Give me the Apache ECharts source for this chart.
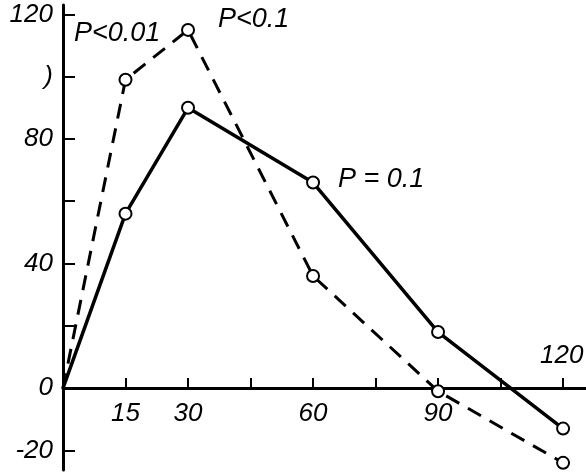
<!DOCTYPE html>
<html>
<head>
<meta charset="utf-8">
<script src="https://cdn.jsdelivr.net/npm/echarts@6/dist/echarts.min.js"></script>
<style>
  html, body { margin: 0; padding: 0; background: #fff; }
  #chart { width: 586px; height: 473px; }
</style>
</head>
<body>
<div id="chart"></div>
<script>
// time points (x) and the two curves
const times = [0, 15, 30, 60, 90, 120];
const solidValues = [0, 56, 90, 66, 18, -13];
const dashedValues = [0, 99, 115, 36, -1, -24];

// axis ticks and labels
const xTicks = [15, 30, 45, 60, 75, 90, 105, 120];
const xLabels = [15, 30, 60, 90];
const yTicks = [-20, 0, 20, 40, 60, 80, 100, 120];
const yLabels = [-20, 0, 40, 80, 100, 120];

const family = '"Liberation Sans"';
const font = { fontFamily: family, fontStyle: 'italic', fontSize: 26, color: '#000' };
const textFont = 'italic 27px ' + family;

const chart = echarts.init(document.getElementById('chart'));

function toData(vals) {
  // no circle drawn at the origin
  return vals.map((v, i) => i === 0 ? { value: [times[i], v], symbol: 'none' } : [times[i], v]);
}

const option = {
  backgroundColor: '#fff',
  animation: false,
  grid: { left: 63, right: 0, top: 5, bottom: 3, outerBoundsMode: 'none' },
  xAxis: {
    type: 'value',
    min: 0,
    max: 125.5,
    offset: -82, // sits on y = 0
    splitLine: { show: false },
    axisLine: { onZero: false, lineStyle: { color: '#000', width: 3 } },
    axisTick: { inside: true, length: 10, lineStyle: { color: '#000', width: 2 }, customValues: xTicks },
    axisLabel: { ...font, margin: 13, customValues: xLabels }
  },
  yAxis: {
    type: 'value',
    min: -26.3,
    max: 123,
    splitLine: { show: false },
    axisLine: { lineStyle: { color: '#000', width: 3 } },
    axisTick: { inside: true, length: 12, lineStyle: { color: '#000', width: 2 }, customValues: yTicks },
    axisLabel: {
      ...font, margin: 10, customValues: yLabels,
      formatter: v => v === 100 ? ')' : String(v)
    }
  },
  series: [
    {
      type: 'line',
      data: toData(dashedValues),
      symbol: 'emptyCircle',
      symbolSize: 12,
      lineStyle: { color: '#000', width: 3, type: [15, 10] },
      itemStyle: { color: '#000', borderWidth: 2.5 },
      z: 2
    },
    {
      type: 'line',
      data: toData(solidValues),
      symbol: 'emptyCircle',
      symbolSize: 12,
      lineStyle: { color: '#000', width: 3.5 },
      itemStyle: { color: '#000', borderWidth: 2.5 },
      z: 3
    }
  ],
  graphic: [
    { type: 'text', left: 74, top: 20, style: { text: 'P<0.01', font: textFont, fill: '#000' } },
    { type: 'text', left: 218, top: 6, style: { text: 'P<0.1', font: textFont, fill: '#000' } },
    { type: 'text', left: 338, top: 166, style: { text: 'P = 0.1', font: textFont, fill: '#000' } },
    { type: 'text', left: 540, top: 343, style: { text: '120', font: 'italic 26px ' + family, fill: '#000' } }
  ]
};

chart.setOption(option);
</script>
</body>
</html>
